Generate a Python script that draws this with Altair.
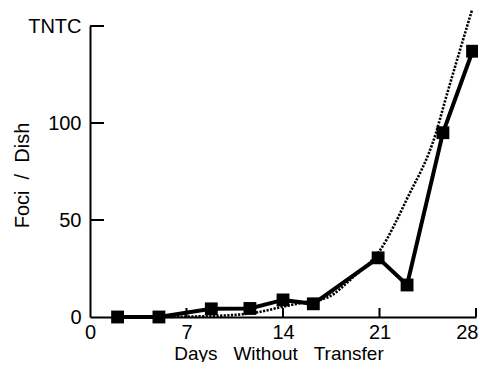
import altair as alt
import pandas as pd

# Observed foci per dish
days = [2, 5, 8.8, 11.6, 14, 16.2, 20.9, 23, 25.6, 27.75]
foci = [0, 0, 4.2, 4.4, 8.8, 6.8, 30.5, 16.5, 95, 137]

# Dotted reference curve
fit_days = [5, 7, 9.6, 12.3, 13.8, 15.5, 17.2, 19.1, 21, 23, 25.1, 25.7, 27.7]
fit_vals = [0, 0.2, 0.7, 2.6, 5, 7.5, 10, 20.6, 34, 61, 95, 110, 158]

x_ticks = [7, 14, 21, 28]
x_tick_values = [0, 7, 14, 21, 28]
y_ticks = [50, 100, 150]
y_tick_values = [0, 50, 100, 150]
y_tick_labels = ["0", "50", "100", "TNTC\u00a0"]

x_title = "Days\u00a0\u00a0\u00a0Without\u00a0\u00a0\u00a0Transfer"
y_title = "Foci\u00a0\u00a0/\u00a0\u00a0Dish"

W, H = 386, 291
FONT = "Liberation Sans"
FS = 20

obs = pd.DataFrame({"day": days, "foci": foci})
fit = pd.DataFrame({"day": fit_days, "foci": fit_vals})
xt = pd.DataFrame({"day": x_ticks})
yt = pd.DataFrame({"foci": y_ticks})

xscale = alt.Scale(domain=[0, 28], nice=False, zero=False)
yscale = alt.Scale(domain=[0, 150], nice=False)

label_map = "{" + ",".join(f"'{v}':'{l}'" for v, l in zip(y_tick_values, y_tick_labels)) + "}"

xaxis = alt.Axis(
    values=x_tick_values, ticks=False, tickSize=0, grid=False, labelFlush=False,
    labelAlign={"condition": {"test": "datum.value == 28", "value": "right"}, "value": "center"},
    labelOffset={"condition": {"test": "datum.value == 28", "value": 2}, "value": 0},
    domainColor="black", domainWidth=2, labelFont=FONT, labelFontSize=FS,
    labelColor="black", labelPadding=5, title=x_title,
    titleFont=FONT, titleFontSize=19, titleFontWeight="normal", titleColor="black",
    titleX=188.5, titleY=42, titleBaseline="alphabetic", titleAnchor="middle", titleAlign="center",
)
yaxis = alt.Axis(
    values=y_tick_values, ticks=False, tickSize=0, grid=False, labelFlush=False,
    domainColor="black", domainWidth=2, labelFont=FONT, labelFontSize=FS,
    labelColor="black", labelPadding=9,
    labelExpr=f"{label_map}[datum.value + '']",
    title=y_title, titleFont=FONT, titleFontSize=FS, titleFontWeight="normal",
    titleColor="black", titleAngle=-90, titleX=-62, titleY=149,
    titleAlign="center", titleBaseline="alphabetic",
)

X = alt.X("day:Q", scale=xscale, axis=xaxis)
Y = alt.Y("foci:Q", scale=yscale, axis=yaxis)

dotted = alt.Chart(fit).mark_line(
    color="black", strokeWidth=2.6, strokeDash=[2.2, 1.4], interpolate="monotone", clip=False
).encode(x=X, y=Y)

line = alt.Chart(obs).mark_line(color="black", strokeWidth=4).encode(x=X, y=Y)

pts = alt.Chart(obs).mark_point(
    shape="square", filled=True, color="black", size=165, opacity=1
).encode(x=X, y=Y)

xticks = alt.Chart(xt).mark_rule(color="black", strokeWidth=2).encode(
    x=X, y=alt.value(H), y2=alt.value(H - 9),
)
yticks = alt.Chart(yt).mark_rule(color="black", strokeWidth=2).encode(
    y=Y, x=alt.value(0), x2=alt.value(14),
)

chart = alt.layer(dotted, xticks, yticks, line, pts).properties(
    width=W, height=H,
    background="white",
    autosize=alt.AutoSizeParams(type="none"),
    padding={"left": 82, "top": 18, "right": 2, "bottom": 45},
).configure_view(stroke=None)

chart.save("out.html", embed_options={"renderer": "svg", "actions": False})
